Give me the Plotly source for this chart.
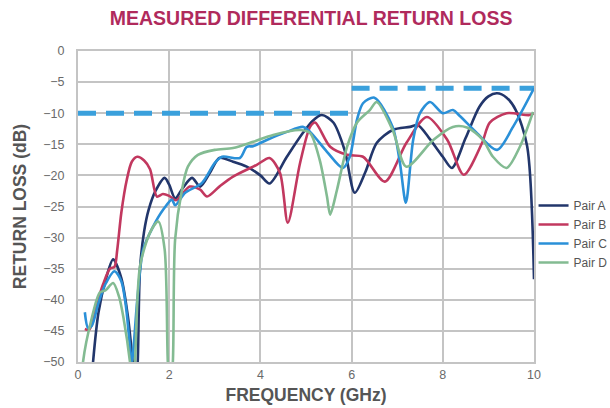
import plotly.graph_objects as go

# Frequencies (GHz) and return loss (dB) per pair
freq_a = [0.28, 0.33, 0.45, 0.6, 0.77, 0.95, 1.1, 1.2, 1.27, 1.31, 1.36, 1.45, 1.55, 1.7, 1.9, 2.0, 2.13, 2.3,
          2.5, 2.68, 2.9, 3.1, 3.4, 3.7, 4.0, 4.2, 4.58, 4.93, 5.15, 5.35, 5.6, 5.85, 6.07, 6.3, 6.55, 6.9,
          7.28, 7.45, 7.7, 8.0, 8.2, 8.5, 8.8, 9.0, 9.19, 9.4, 9.6, 9.85, 10.0]
loss_a = [-55, -50, -42, -37, -33.5, -36.5, -43, -50, -55, -50, -35, -29, -25.5, -22.5, -20.4, -21.5, -23.7, -22,
          -20.4, -21.8, -19.5, -17.2, -17.8, -18.6, -20, -21.3, -17, -13.2, -11.2, -10.3, -11.5, -16, -22.8, -19.5, -14.8, -12.7,
          -12.2, -11.9, -14, -17, -18.8, -14, -9, -7.3, -6.8, -7.5, -9.5, -15.3, -36.7]

freq_b = [0.15, 0.25, 0.4, 0.55, 0.7, 0.8, 0.86, 0.95, 1.07, 1.18, 1.3, 1.45, 1.58, 1.73, 1.86, 2.0, 2.15,
          2.45, 2.68, 2.83, 3.1, 3.4, 3.92, 4.2, 4.43, 4.6, 4.87, 5.09, 5.2, 5.53, 5.9, 6.25, 6.73, 7.2,
          7.65, 8.1, 8.46, 8.86, 9.03, 9.4, 9.9, 10.0]
loss_b = [-44.7, -44.8, -41, -37.5, -35, -34.7, -32, -26, -20.7, -17.8, -17, -17.6, -19, -23.4, -23, -23.3, -24,
          -21.8, -22.3, -23.4, -21.8, -20.2, -18.3, -17.2, -19.6, -27.6, -18, -12.2, -11.5, -15.4, -16.7, -17, -21, -14.8,
          -10.6, -14.3, -19.9, -14.8, -11.5, -10, -10.3, -10]

freq_c = [0.15, 0.22, 0.3, 0.45, 0.6, 0.8, 0.95, 1.05, 1.12, 1.18, 1.3, 1.43, 1.65, 1.87, 2.06, 2.13, 2.35,
          2.72, 3.0, 3.16, 3.55, 3.7, 3.84, 4.14, 4.58, 4.93, 5.09, 5.46, 5.81, 5.96, 6.12, 6.25, 6.5,
          6.9, 7.06, 7.19, 7.35, 7.5, 7.72, 8.0, 8.22, 8.38, 8.75, 9.19, 9.54, 10.0]
loss_c = [-42, -44.5, -44.2, -40.5, -37.5, -35.4, -37, -41, -46, -50, -40, -31.9, -28.2, -25.5, -23.9, -24.8, -22.8,
          -21.2, -18, -17, -17.2, -15.4, -15.3, -14.3, -13, -12.2, -13, -16.2, -18.8, -17, -11, -8.4, -7.5,
          -12.2, -18, -24.4, -14.3, -10, -8.2, -10, -9.5, -10.5, -13.2, -15.9, -12.2, -6]

freq_d = [0.08, 0.11, 0.3, 0.48, 0.6, 0.77, 0.9, 1.0, 1.14, 1.2, 1.25, 1.36, 1.58, 1.76, 1.9, 1.97, 2.02, 2.08,
          2.13, 2.28, 2.41, 2.63, 3.0, 3.4, 3.84, 4.28, 4.87, 5.09, 5.3, 5.46, 5.53, 5.68, 5.9, 6.12, 6.4,
          6.55, 6.9, 7.2, 7.79, 8.22, 8.53, 8.88, 9.1, 9.4, 9.69, 9.98]
loss_d = [-55, -50, -43, -38.8, -38.5, -37.3, -39.5, -43, -50, -55, -50, -34.6, -29.2, -27.4, -31.9, -50, -55, -50,
          -30.3, -22.3, -18.6, -16.7, -15.9, -15.6, -14.6, -13.5, -12.7, -13.2, -17.5, -23.4, -26.3, -22.3, -15.4, -11.5, -9.5,
          -8.2, -12.7, -18.6, -14.3, -12.2, -12.3, -14.3, -17, -18.8, -15.4, -9.8]

limit_x1 = [0, 6]
limit_y1 = [-10, -10]
limit_x2 = [6, 10]
limit_y2 = [-6, -6]

series = [
    ("Pair A", freq_a, loss_a, "#22366b"),
    ("Pair B", freq_b, loss_b, "#c2385f"),
    ("Pair C", freq_c, loss_c, "#2a90d8"),
    ("Pair D", freq_d, loss_d, "#83bb92"),
]

fig = go.Figure()
limit_color = "#3aa0dc"
fig.add_trace(go.Scatter(x=limit_x1, y=limit_y1, mode="lines", showlegend=False,
                         line=dict(color=limit_color, width=5, dash="18px,10px"), hoverinfo="skip"))
fig.add_trace(go.Scatter(x=limit_x2, y=limit_y2, mode="lines", showlegend=False,
                         line=dict(color=limit_color, width=5, dash="18px,10px"), hoverinfo="skip"))
for name, xs, ys, col in series:
    fig.add_trace(go.Scatter(x=xs, y=ys, mode="lines", name=name,
                             line=dict(color=col, width=2.6, shape="spline", smoothing=0.8)))

grid = "#c4c4c4"
fig.update_layout(
    width=610, height=408,
    margin=dict(l=78, r=76, t=51, b=46, autoexpand=False),
    paper_bgcolor="white", plot_bgcolor="white",
    font=dict(family="Liberation Sans, Arial, sans-serif", color="#555555"),
    title=dict(text="<b>MEASURED DIFFERENTIAL RETURN LOSS</b>", x=0.51, xanchor="center",
               y=0.955, yanchor="middle",
               font=dict(size=19.5, color="#b02a5c", family="Liberation Sans, Arial, sans-serif")),
    xaxis=dict(range=[0, 10], dtick=2, tick0=0, showgrid=True, gridcolor=grid, gridwidth=2,
               showline=True, linecolor=grid, linewidth=2, mirror=True, zeroline=False,
               ticks="", tickfont=dict(size=12.5, color="#6a6a6a"),
               title=dict(text="<b>FREQUENCY (GHz)</b>", font=dict(size=17.5, color="#555555"), standoff=8)),
    yaxis=dict(range=[-50, 0], dtick=5, tick0=0, showgrid=True, gridcolor=grid, gridwidth=2,
               showline=True, linecolor=grid, linewidth=2, mirror=True, zeroline=False,
               ticks="", tickfont=dict(size=12.5, color="#6a6a6a"), ticklabelstandoff=9,
               title=dict(text="<b>RETURN LOSS (dB)</b>", font=dict(size=17.5, color="#555555"), standoff=12)),
    legend=dict(x=0.999, xanchor="left", y=0.55, yanchor="top", bgcolor="rgba(0,0,0,0)",
                font=dict(size=12, color="#555555"), itemwidth=30, tracegroupgap=0),
    showlegend=True,
)

fig.write_html("out.html")
